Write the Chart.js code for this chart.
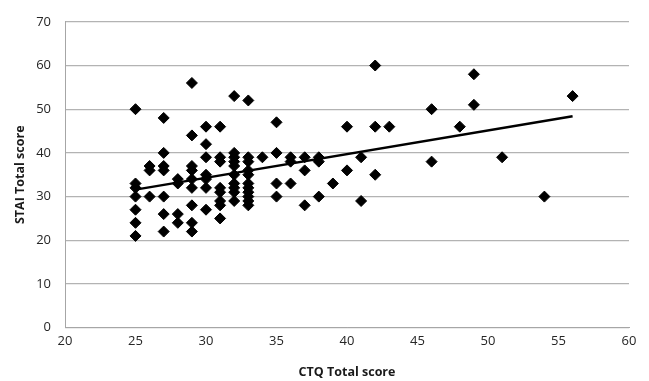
<!DOCTYPE html>
<html>
<head>
<meta charset="utf-8">
<script src="https://cdn.jsdelivr.net/npm/chart.js@4/dist/chart.umd.min.js"></script>
<style>
  html, body { margin: 0; padding: 0; background: #fff; }
  #wrap { width: 649px; height: 381px; }
</style>
</head>
<body>
<div id="wrap"><canvas id="chart" width="649" height="381"></canvas></div>
<script>
// CTQ total score (x), one entry per subject
const ctqScores = [
  25, 25, 25, 25, 25, 25, 25,
  26, 26, 26,
  27, 27, 27, 27, 27, 27, 27,
  28, 28, 28, 28,
  29, 29, 29, 29, 29, 29, 29, 29, 29,
  30, 30, 30, 30, 30, 30, 30,
  31, 31, 31, 31, 31, 31, 31, 31,
  32, 32, 32, 32, 32, 32, 32, 32, 32, 32,
  33, 33, 33, 33, 33, 33, 33, 33, 33, 33, 33,
  34,
  35, 35, 35, 35,
  36, 36, 36,
  37, 37, 37,
  38, 38, 38,
  39,
  40, 40,
  41, 41,
  42, 42, 42,
  43,
  46, 46,
  48,
  49, 49,
  51,
  54,
  56
];

// STAI total score (y), same order
const staiScores = [
  50, 33, 32, 30, 27, 24, 21,
  37, 36, 30,
  48, 40, 37, 36, 30, 26, 22,
  34, 33, 26, 24,
  56, 44, 37, 36, 34, 32, 28, 24, 22,
  46, 42, 39, 35, 34, 32, 27,
  46, 39, 38, 32, 31, 29, 28, 25,
  53, 40, 39, 38, 37, 35, 33, 32, 31, 29,
  52, 39, 38, 36, 35, 33, 32, 31, 30, 29, 28,
  39,
  47, 40, 33, 30,
  39, 38, 33,
  39, 36, 28,
  39, 38, 30,
  33,
  46, 36,
  39, 29,
  60, 46, 35,
  46,
  50, 38,
  46,
  58, 51,
  39,
  30,
  53
];

// линия тренда (концы)
const trendX = [25, 56];
const trendY = [31.6, 48.4];

const xTitle = 'CTQ Total score';
const yTitle = 'STAI Total score';

const points = ctqScores.map((x, i) => ({ x, y: staiScores[i] }));
const trend = trendX.map((x, i) => ({ x, y: trendY[i] }));

const tickFont = { family: '"Open Sans", sans-serif', size: 13 };
const titleFont = { family: '"Open Sans", sans-serif', size: 12.5, weight: 'bold' };

new Chart(document.getElementById('chart'), {
  type: 'scatter',
  data: {
    datasets: [
      {
        data: points,
        pointStyle: 'rectRot',
        pointRadius: 5.5,
        pointBorderWidth: 1,
        backgroundColor: '#000',
        borderColor: '#000',
        order: 2
      },
      {
        type: 'line',
        data: trend,
        borderColor: '#000',
        borderWidth: 2.5,
        pointRadius: 0,
        fill: false,
        order: 1
      }
    ]
  },
  options: {
    responsive: false,
    animation: false,
    layout: { padding: { left: 0, right: 20, top: 19, bottom: 0 } },
    plugins: {
      legend: { display: false },
      tooltip: { enabled: false }
    },
    scales: {
      x: {
        type: 'linear',
        min: 20,
        max: 60,
        afterFit: s => { s.height = 53.3; },
        ticks: { stepSize: 5, color: '#262626', font: tickFont, padding: 6, maxRotation: 0 },
        grid: { display: false, drawTicks: false },
        border: { display: true, color: '#a6a6a6', width: 1 },
        title: { display: true, text: xTitle, color: '#1a1a1a', font: titleFont, padding: { top: 0, bottom: 1 } }
      },
      y: {
        min: 0,
        max: 70,
        afterFit: s => { s.width = 65; },
        ticks: { stepSize: 10, color: '#262626', font: tickFont, padding: 14 },
        grid: { color: '#b3b3b3', lineWidth: 1.2, drawTicks: false },
        border: { display: true, color: '#a6a6a6', width: 1 },
        title: { display: true, text: yTitle, color: '#1a1a1a', font: titleFont, padding: { top: 13, bottom: 0 } }
      }
    }
  }
});
</script>
</body>
</html>
